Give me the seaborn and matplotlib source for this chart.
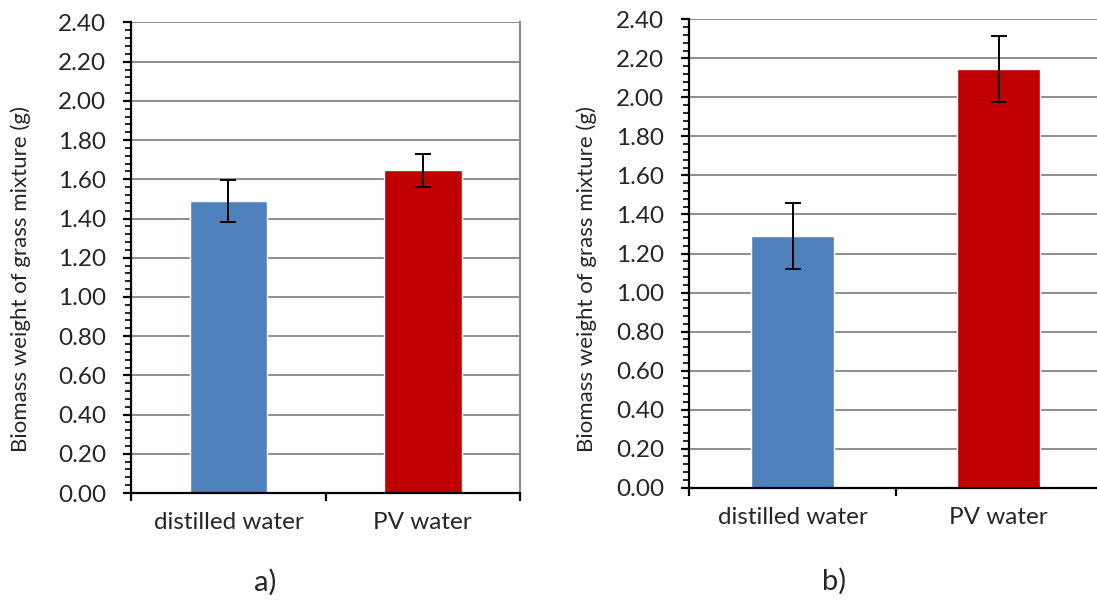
import pandas as pd
import matplotlib
matplotlib.use('Agg')
import matplotlib.pyplot as plt
from matplotlib.ticker import MultipleLocator, FixedLocator, FormatStrFormatter, NullFormatter
import seaborn as sns

# data
categories = ['distilled water', 'PV water']
mean_a = [1.49, 1.645]
err_a = [0.107, 0.084]
mean_b = [1.29, 2.145]
err_b = [0.17, 0.17]
panel_labels = ['a)', 'b)']
bar_colors = ['#4F81BD', '#C00000']

sns.set_style('white')
plt.rcParams['font.family'] = ['Lato', 'DejaVu Sans']
fontsize = 17.5

fig = plt.figure(figsize=(10.97, 6.01), dpi=100)
ax_a = fig.add_axes([0.1196, 0.1797, 0.3544, 0.7829])
ax_b = fig.add_axes([0.6285, 0.1885, 0.3759, 0.7794])

grid_gray = '#8E8E8E'

for ax, means, errs in [(ax_a, mean_a, err_a), (ax_b, mean_b, err_b)]:
    df = pd.DataFrame({'water': categories, 'biomass': means})
    sns.barplot(data=df, x='water', y='biomass', hue='water',
                palette=bar_colors, width=0.4, errorbar=None,
                legend=False, saturation=1, ax=ax, zorder=3)
    ax.errorbar(range(len(categories)), means, yerr=errs, fmt='none',
                ecolor='black', elinewidth=1.4, capsize=6, capthick=1.4, zorder=4)

    ax.set_xlim(-0.5, 1.5)
    ax.set_ylim(0, 2.4)
    ax.yaxis.set_major_locator(MultipleLocator(0.2))
    ax.yaxis.set_minor_locator(MultipleLocator(0.04))
    ax.yaxis.set_major_formatter(FormatStrFormatter('%.2f'))
    ax.yaxis.grid(True, color=grid_gray, linewidth=1.4, zorder=0)
    ax.set_axisbelow(True)

    # Excel-style category ticks: marks between categories, labels centred
    ax.xaxis.set_major_locator(FixedLocator([-0.5, 0.5, 1.5]))
    ax.xaxis.set_major_formatter(NullFormatter())
    ax.set_xticks([0, 1], categories, minor=True)
    ax.tick_params(axis='x', which='major', direction='out', length=6, width=1.6,
                   color='black', bottom=True)
    ax.tick_params(axis='x', which='minor', length=0, pad=14, labelsize=fontsize)
    ax.tick_params(axis='y', which='major', direction='out', length=6, width=1.6,
                   color='black', left=True, pad=12, labelsize=fontsize)
    ax.tick_params(axis='y', which='minor', direction='out', length=4.5, width=1.2,
                   color='black', left=True)

    for side in ['left', 'bottom']:
        ax.spines[side].set_color('black')
        ax.spines[side].set_linewidth(1.6)
        ax.spines[side].set_zorder(5)
    ax.spines['top'].set_visible(False)
    ax.spines['right'].set_color(grid_gray)
    ax.spines['right'].set_linewidth(1.6)

    ax.set_xlabel('')
    ax.set_ylabel('Biomass weight of grass mixture (g)', fontsize=16)

ax_a.yaxis.set_label_coords(-0.257, 0.454)
ax_b.yaxis.set_label_coords(-0.224, 0.446)

fig.text(265 / 1097, 1 - 582 / 601, panel_labels[0], ha='center', va='center', fontsize=21)
fig.text(834 / 1097, 1 - 581 / 601, panel_labels[1], ha='center', va='center', fontsize=21)

fig.savefig('out.png', dpi=100)
